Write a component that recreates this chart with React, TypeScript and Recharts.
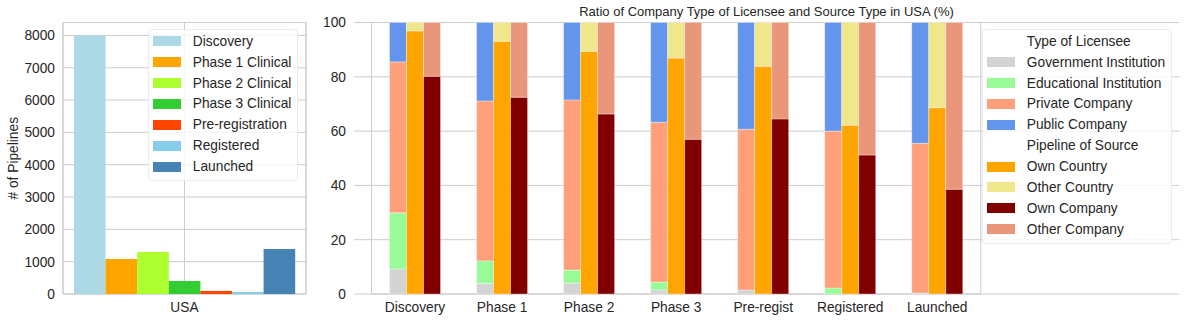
import { Bar, BarChart, CartesianGrid, Legend, ReferenceArea, XAxis, YAxis } from 'recharts';

const FONT = '"Liberation Sans", Arial, Helvetica, sans-serif';
const INK = '#262626';
const GRID = '#cccccc';
const TEXT = 13.75;

// left panel: pipelines per development stage
const countries = ['USA'];
const stageNames = [
  'Discovery',
  'Phase 1 Clinical',
  'Phase 2 Clinical',
  'Phase 3 Clinical',
  'Pre-registration',
  'Registered',
  'Launched',
];
const stageColors = ['#add8e6', '#ffa500', '#adff2f', '#32cd32', '#ff4500', '#87ceeb', '#4682b4'];
const stagePipelines = [8000, 1080, 1300, 400, 95, 60, 1390];
const countTicks = [0, 1000, 2000, 3000, 4000, 5000, 6000, 7000, 8000];
const countMax = 8400;

// right panel: ratios (%) per stage
const stages = ['Discovery', 'Phase 1', 'Phase 2', 'Phase 3', 'Pre-regist', 'Registered', 'Launched'];
const governmentInst = [9.2, 3.9, 4.0, 1.5, 1.5, 0, 0.4];
const educationalInst = [20.7, 8.3, 4.8, 2.9, 0, 2.2, 0];
const privateCompany = [55.6, 58.9, 62.7, 58.9, 59.2, 57.8, 55.1];
const publicCompany = [14.5, 28.9, 28.5, 36.7, 39.3, 40.0, 44.5];
const ownCountry = [96.9, 93.1, 89.4, 86.9, 83.9, 62.2, 68.6];
const otherCountry = [3.1, 6.9, 10.6, 13.1, 16.1, 37.8, 31.4];
const ownCompany = [80.2, 72.5, 66.3, 57.0, 64.5, 51.2, 38.6];
const otherCompany = [19.8, 27.5, 33.7, 43.0, 35.5, 48.8, 61.4];
const pctTicks = [0, 20, 40, 60, 80, 100];

const ratioSeries = [
  { key: 'gov', name: 'Government Institution', color: '#d3d3d3', stack: 'licensee', values: governmentInst },
  { key: 'edu', name: 'Educational Institution', color: '#98fb98', stack: 'licensee', values: educationalInst },
  { key: 'priv', name: 'Private Company', color: '#ffa07a', stack: 'licensee', values: privateCompany },
  { key: 'pub', name: 'Public Company', color: '#6495ed', stack: 'licensee', values: publicCompany },
  { key: 'ownCty', name: 'Own Country', color: '#ffa500', stack: 'country', values: ownCountry },
  { key: 'othCty', name: 'Other Country', color: '#f0e68c', stack: 'country', values: otherCountry },
  { key: 'ownCo', name: 'Own Company', color: '#800000', stack: 'company', values: ownCompany },
  { key: 'othCo', name: 'Other Company', color: '#e9967a', stack: 'company', values: otherCompany },
];

const countData = countries.map((c, ci) => {
  const row: Record<string, string | number> = { country: c };
  stageNames.forEach((_, i) => {
    row[`s${i}`] = [stagePipelines][ci][i];
  });
  return row;
});

const ratioData = stages.map((stage, i) => {
  const row: Record<string, string | number> = { stage };
  ratioSeries.forEach((s) => {
    row[s.key] = s.values[i];
  });
  return row;
});

type LegendRow = { label: string; color?: string };

function LegendBox({ rows }: { rows: LegendRow[] }) {
  return (
    <div
      style={{
        boxSizing: 'border-box',
        width: '100%',
        background: 'rgba(255,255,255,0.8)',
        border: '1px solid #ececec',
        borderRadius: 4,
        padding: '0.5px 0 3px 4px',
        fontFamily: FONT,
        fontSize: TEXT,
        color: INK,
      }}
    >
      {rows.map((r) => (
        <div key={r.label} style={{ display: 'flex', alignItems: 'center', height: 20.9, whiteSpace: 'nowrap' }}>
          <span
            style={{
              display: 'inline-block',
              width: 28,
              height: 10,
              background: r.color ?? 'transparent',
              marginRight: 11.5,
              flex: 'none',
            }}
          />
          <span>{r.label}</span>
        </div>
      ))}
    </div>
  );
}

const tick = { fill: INK, fontSize: TEXT, fontFamily: FONT };

export default function App() {
  const stageLegend: LegendRow[] = stageNames.map((n, i) => ({ label: n, color: stageColors[i] }));
  const ratioLegend: LegendRow[] = [
    { label: 'Type of Licensee' },
    ...ratioSeries.slice(0, 4).map((s) => ({ label: s.name, color: s.color })),
    { label: 'Pipeline of Source' },
    ...ratioSeries.slice(4).map((s) => ({ label: s.name, color: s.color })),
  ];

  return (
    <div style={{ position: 'absolute', left: 0, top: 0, width: 1186, height: 322, background: '#fff' }}>
      <div style={{ position: 'absolute', left: 0, top: 0 }}>
        <BarChart
          width={310}
          height={322}
          data={countData}
          margin={{ top: 22.5, right: 4, bottom: 0, left: 0 }}
          barGap={0}
        >
          <CartesianGrid stroke={GRID} />
          <XAxis dataKey="country" tick={tick} axisLine={false} tickLine={false} height={28} />
          <YAxis
            domain={[0, countMax]}
            ticks={countTicks}
            tick={tick}
            axisLine={false}
            tickLine={false}
            width={63}
            label={(props: any) => {
              const vb = props.viewBox;
              const cx = vb.x + 13.5;
              const cy = vb.y + vb.height / 2;
              return (
                <text
                  x={cx}
                  y={cy}
                  transform={`rotate(-90, ${cx}, ${cy})`}
                  textAnchor="middle"
                  dominantBaseline="central"
                  fill={INK}
                  fontSize={TEXT}
                  fontFamily={FONT}
                >
                  # of Pipelines
                </text>
              );
            }}
          />
          {stageNames.map((n, i) => (
            <Bar key={n} dataKey={`s${i}`} name={n} fill={stageColors[i]} barSize={31.6} isAnimationActive={false} />
          ))}
          <ReferenceArea y1={0} y2={countMax} fill="none" stroke={GRID} strokeWidth={1} />
          <Legend
            layout="vertical"
            align="center"
            verticalAlign="middle"
            wrapperStyle={{ left: 148.3, top: 29.3, width: 150 }}
            content={() => <LegendBox rows={stageLegend} />}
          />
        </BarChart>
      </div>

      <div style={{ position: 'absolute', left: 310, top: 0 }}>
        <div
          style={{
            position: 'absolute',
            left: 44,
            top: 4,
            width: 825,
            textAlign: 'center',
            fontFamily: FONT,
            fontSize: 13,
            lineHeight: '16px',
            color: INK,
            whiteSpace: 'nowrap',
          }}
        >
          Ratio of Company Type of Licensee and Source Type in USA (%)
        </div>
        <BarChart
          width={876}
          height={322}
          data={ratioData}
          margin={{ top: 22.5, right: 6.7, bottom: 0, left: 0 }}
          barGap={0}
        >
          <CartesianGrid stroke={GRID} vertical={false} />
          <XAxis
            dataKey="stage"
            tick={tick}
            axisLine={false}
            tickLine={false}
            height={28}
            padding={{ left: 17.5, right: 198.5 }}
            interval={0}
          />
          <YAxis domain={[0, 100]} ticks={pctTicks} tick={tick} axisLine={false} tickLine={false} width={44} />
          {ratioSeries.map((s) => (
            <Bar
              key={s.key}
              dataKey={s.key}
              name={s.name}
              stackId={s.stack}
              fill={s.color}
              stroke="#ffffff"
              strokeOpacity={0.35}
              strokeWidth={1}
              barSize={17}
              isAnimationActive={false}
            />
          ))}
          <ReferenceArea y1={0} y2={100} fill="none" stroke={GRID} strokeWidth={1} />
          <Legend
            layout="vertical"
            align="center"
            verticalAlign="middle"
            wrapperStyle={{ left: 672.3, top: 29.3, width: 189.4 }}
            content={() => <LegendBox rows={ratioLegend} />}
          />
        </BarChart>
      </div>
    </div>
  );
}
